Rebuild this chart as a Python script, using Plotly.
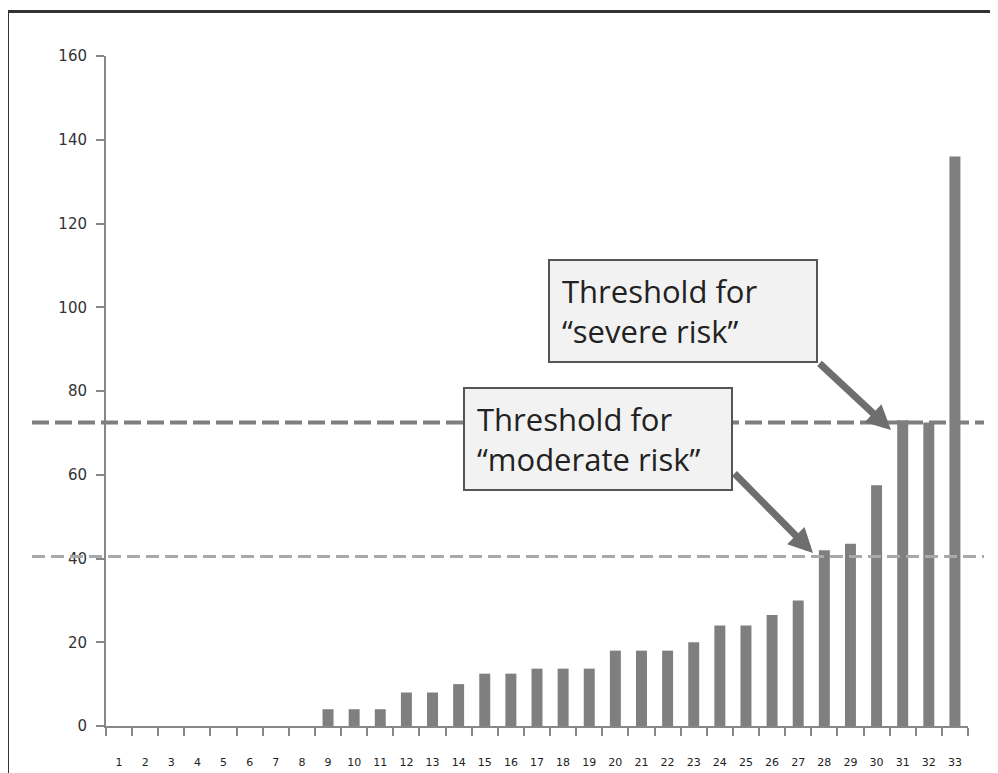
import plotly.graph_objects as go

# ---- data ----
categories = [str(i) for i in range(1, 34)]
values = [0, 0, 0, 0, 0, 0, 0, 0,
          4, 4, 4, 8, 8, 10, 12.5, 12.5, 13.7, 13.7, 13.7,
          18, 18, 18, 20, 24, 24, 26.5, 30, 42, 43.5, 57.5, 73, 72.5, 136]
y_ticks = [0, 20, 40, 60, 80, 100, 120, 140, 160]
moderate_threshold = 40.5
severe_threshold = 72.5
severe_label = "Threshold for<br>“severe risk”"
moderate_label = "Threshold for<br>“moderate risk”"

# ---- layout helpers (reference pixel -> paper) ----
OFF = 8  # page body margin
W, H = 998 - OFF, 773 - OFF
PL, PR, PT, PB = 106, 968, 56, 726  # plot area in reference (window) pixels


def px(x):
    return (x - PL) / (PR - PL)


def py(y):
    return (PB - y) / (PB - PT)


fig = go.Figure()
fig.add_trace(go.Bar(
    x=categories, y=values,
    marker=dict(color="#7f7f7f", line=dict(width=0)),
    width=0.42,
    hoverinfo="x+y",
))

axis_color = "#878787"
fig.update_layout(
    width=W, height=H,
    margin=dict(l=PL - OFF, r=998 - PR, t=PT - OFF, b=773 - PB),
    paper_bgcolor="white", plot_bgcolor="white",
    showlegend=False,
    xaxis=dict(
        type="category", automargin=False,
        showline=True, linecolor=axis_color, linewidth=2,
        ticks="outside", tickson="boundaries", ticklen=8, tickwidth=2, tickcolor=axis_color,
        tickfont=dict(family="DejaVu Sans", size=11, color="#222222"),
        ticklabelstandoff=25,
        showgrid=False, zeroline=False,
    ),
    yaxis=dict(
        range=[0, 160], automargin=False,
        tickvals=y_ticks,
        showline=True, linecolor=axis_color, linewidth=2,
        ticks="outside", ticklen=8, tickwidth=2, tickcolor=axis_color,
        tickfont=dict(family="DejaVu Sans", size=15, color="#333333"),
        ticklabelstandoff=6,
        showgrid=False, zeroline=False,
    ),
)

# threshold lines
fig.add_shape(type="line", xref="paper", yref="y",
              x0=px(32), x1=px(984), y0=severe_threshold, y1=severe_threshold,
              line=dict(color="#7f7f7f", width=4, dash="17px,6px"), layer="above")
fig.add_shape(type="line", xref="paper", yref="y",
              x0=px(32), x1=px(984), y0=moderate_threshold, y1=moderate_threshold,
              line=dict(color="#a9a9a9", width=3, dash="13px,6px"), layer="above")

# outer frame (left and top edges)
fig.add_shape(type="line", xref="paper", yref="paper",
              x0=px(7.5), x1=px(7.5), y0=py(11.5), y1=py(800),
              line=dict(color="#333333", width=3))
fig.add_shape(type="line", xref="paper", yref="paper",
              x0=px(6), x1=px(1010), y0=py(11.5), y1=py(11.5),
              line=dict(color="#333333", width=3))

# arrows
arrow_style = dict(showarrow=True, arrowcolor="#6e6e6e", arrowwidth=7,
                   arrowhead=2, arrowsize=0.7, text="", xref="paper", yref="paper",
                   axref="pixel", ayref="pixel")
fig.add_annotation(x=px(891), y=py(430), ax=818 - 891, ay=362 - 430, **arrow_style)
fig.add_annotation(x=px(813), y=py(553), ax=733 - 813, ay=472 - 553, **arrow_style)

# callout boxes
box_style = dict(showarrow=False, xref="paper", yref="paper",
                 xanchor="left", yanchor="top", align="left", valign="middle",
                 bgcolor="#f2f2f2", bordercolor="#555555", borderwidth=2, borderpad=12,
                 width=242, height=76,
                 font=dict(family="Open Sans", size=31, color="#222222"))
fig.add_annotation(x=px(548), y=py(259), text=severe_label, **box_style)
fig.add_annotation(x=px(463), y=py(387), text=moderate_label, **box_style)

fig.write_html("out.html")
